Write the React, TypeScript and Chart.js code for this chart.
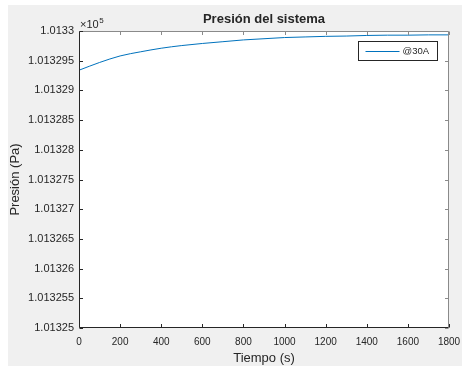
import React, { useEffect, useRef } from "react";
import { Chart, registerables } from "chart.js";

Chart.register(...registerables);

// ---- data ----
const timeS = [0, 100, 200, 300, 400, 500, 600, 700, 800, 900, 1000, 1100, 1200, 1300, 1400, 1500, 1600, 1700, 1800];
const pressurePa = [
  101329.34, 101329.47, 101329.58, 101329.65, 101329.71, 101329.755, 101329.79, 101329.82, 101329.85,
  101329.87, 101329.89, 101329.9, 101329.91, 101329.915, 101329.925, 101329.93, 101329.93, 101329.935, 101329.935,
];
const seriesLabel = "@30A";
const yTickValues = [101325, 101325.5, 101326, 101326.5, 101327, 101327.5, 101328, 101328.5, 101329, 101329.5, 101330];
const yTickLabels = [
  "1.01325", "1.013255", "1.01326", "1.013265", "1.01327", "1.013275", "1.01328", "1.013285", "1.01329", "1.013295", "1.0133",
];
const xTickLabels = ["0", "200", "400", "600", "800", "1000", "1200", "1400", "1600", "1800"];
const titleText = "Presión del sistema";
const xTitle = "Tiempo (s)";
const yTitle = "Presión (Pa)";

const FONT = "'Liberation Sans', Arial, Helvetica, sans-serif";
const TEXT = "#262626";
const LINE = "#0072BD";

const framePlugin = {
  id: "matlabFrame",
  beforeDraw(chart: any) {
    const { ctx, chartArea: a, width, height } = chart;
    ctx.save();
    ctx.fillStyle = "#f0f0f0";
    ctx.fillRect(0, 0, width, height);
    ctx.fillStyle = "#ffffff";
    ctx.fillRect(a.left, a.top, a.right - a.left, a.bottom - a.top);
    ctx.restore();
  },
  afterDatasetsDraw(chart: any) {
    const { ctx, chartArea: a, scales } = chart;
    ctx.save();
    ctx.lineWidth = 1;
    const L = Math.round(a.left) + 0.5;
    const R = Math.round(a.right) - 0.5;
    const T = Math.round(a.top) + 0.5;
    const B = Math.round(a.bottom) - 0.5;
    // top & right (lighter)
    ctx.strokeStyle = "#8a8a8a";
    ctx.beginPath();
    ctx.moveTo(L, T);
    ctx.lineTo(R, T);
    ctx.lineTo(R, B);
    ctx.stroke();
    const tl = 3.5;
    ctx.beginPath();
    scales.x.ticks.forEach((t: any) => {
      const x = Math.round(scales.x.getPixelForValue(t.value)) + 0.5;
      ctx.moveTo(x, T);
      ctx.lineTo(x, T + tl);
    });
    scales.y.ticks.forEach((t: any) => {
      const y = Math.round(scales.y.getPixelForValue(t.value)) + 0.5;
      ctx.moveTo(R, y);
      ctx.lineTo(R - tl, y);
    });
    ctx.stroke();
    // left & bottom (dark)
    ctx.strokeStyle = TEXT;
    ctx.beginPath();
    ctx.moveTo(L, T);
    ctx.lineTo(L, B);
    ctx.lineTo(R, B);
    ctx.stroke();
    ctx.beginPath();
    scales.x.ticks.forEach((t: any) => {
      const x = Math.round(scales.x.getPixelForValue(t.value)) + 0.5;
      ctx.moveTo(x, B);
      ctx.lineTo(x, B - tl);
    });
    scales.y.ticks.forEach((t: any) => {
      const y = Math.round(scales.y.getPixelForValue(t.value)) + 0.5;
      ctx.moveTo(L, y);
      ctx.lineTo(L + tl, y);
    });
    ctx.stroke();

    // exponent label  x10^5
    ctx.fillStyle = TEXT;
    ctx.textBaseline = "alphabetic";
    ctx.textAlign = "left";
    ctx.font = `11px ${FONT}`;
    const base = "\u00d710";
    ctx.fillText(base, a.left + 1, a.top - 3);
    const w = ctx.measureText(base).width;
    ctx.font = `8px ${FONT}`;
    ctx.fillText("5", a.left + 1 + w + 0.5, a.top - 8);

    // legend box
    const bx = Math.round(a.right) - 90.5;
    const by = Math.round(a.top) + 10.5;
    const bw = 79;
    const bh = 19;
    ctx.fillStyle = "#ffffff";
    ctx.fillRect(bx, by, bw, bh);
    ctx.strokeStyle = TEXT;
    ctx.strokeRect(bx, by, bw, bh);
    const ds = chart.data.datasets[0];
    ctx.strokeStyle = ds.borderColor;
    ctx.beginPath();
    ctx.moveTo(bx + 7, by + 10);
    ctx.lineTo(bx + 41, by + 10);
    ctx.stroke();
    ctx.fillStyle = TEXT;
    ctx.font = `9.5px ${FONT}`;
    ctx.textBaseline = "middle";
    ctx.fillText(ds.label, bx + 44, by + 10);
    ctx.restore();
  },
};

export default function App() {
  const ref = useRef<HTMLCanvasElement | null>(null);
  useEffect(() => {
    if (!ref.current) return;
    const chart = new Chart(ref.current, {
      type: "line",
      data: {
        datasets: [
          {
            label: seriesLabel,
            data: timeS.map((t, i) => ({ x: t, y: pressurePa[i] })),
            borderColor: LINE,
            borderWidth: 1,
            pointRadius: 0,
            cubicInterpolationMode: "monotone",
            fill: false,
          },
        ],
      },
      options: {
        animation: false,
        responsive: false,
        layout: { padding: { left: 0, right: 13, top: 0, bottom: 0 } },
        plugins: {
          legend: { display: false },
          tooltip: { enabled: false },
          title: {
            display: true,
            text: titleText,
            fullSize: false,
            color: TEXT,
            font: { family: FONT, size: 13, weight: "bold", lineHeight: 1.2 },
            padding: { top: 6.7, bottom: 3.7 },
          },
        },
        scales: {
          x: {
            type: "linear",
            min: 0,
            max: 1800,
            grid: { display: false, drawTicks: false },
            border: { display: false },
            ticks: {
              stepSize: 200,
              color: TEXT,
              padding: 8,
              maxRotation: 0,
              autoSkip: false,
              font: { family: FONT, size: 10, lineHeight: 1.2 },
              callback: (v: any) => {
                const i = Math.round(Number(v) / 200);
                return xTickLabels[i] ?? String(v);
              },
            },
            title: {
              display: true,
              text: xTitle,
              color: TEXT,
              font: { family: FONT, size: 13, lineHeight: 1 },
              padding: { top: 0, bottom: 1 },
            },
            afterFit: (s: any) => {
              s.height = 38;
              s.paddingLeft = 0;
              s.paddingRight = 0;
            },
          },
          y: {
            type: "linear",
            min: 101325,
            max: 101330,
            grid: { display: false, drawTicks: false },
            border: { display: false },
            ticks: {
              stepSize: 0.5,
              color: TEXT,
              padding: 5,
              autoSkip: false,
              font: { family: FONT, size: 11, lineHeight: 1.2 },
              callback: (v: any) => {
                const i = yTickValues.findIndex((t) => Math.abs(t - Number(v)) < 1e-6);
                return i >= 0 ? yTickLabels[i] : "";
              },
            },
            title: {
              display: true,
              text: yTitle,
              color: TEXT,
              font: { family: FONT, size: 13, lineHeight: 1 },
              padding: { top: 0.5, bottom: 0 },
            },
            afterFit: (s: any) => {
              s.width = 71;
              s.paddingTop = 0;
              s.paddingBottom = 0;
            },
          },
        },
      } as any,
      plugins: [framePlugin],
    });
    return () => chart.destroy();
  }, []);
  return (
    <div style={{ position: "absolute", left: 8, top: 5, width: 454, height: 361 }}>
      <canvas ref={ref} width={454} height={361} style={{ display: "block", width: 454, height: 361 }} />
    </div>
  );
}
